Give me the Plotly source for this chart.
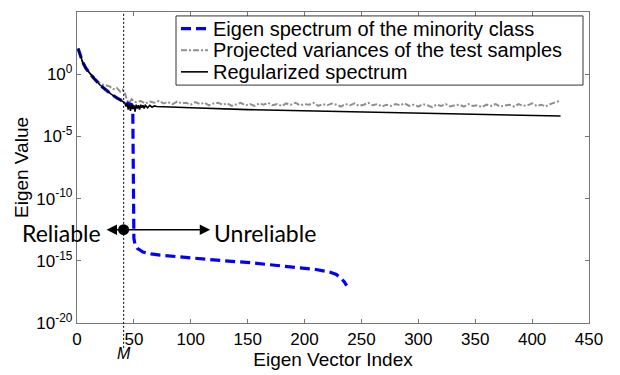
import numpy as np
import plotly.graph_objects as go

# ---------------- data (log10 of eigen values) ----------------
head_idx = [1, 3, 5, 8, 11, 15, 20, 25, 30, 35, 40, 41]
head_log = [2.06, 1.4, 0.95, 0.45, 0.08, -0.35, -0.85, -1.25, -1.6, -1.9, -2.18, -2.22]

blue_idx = head_idx + [45, 48, 49, 50, 51, 53, 58, 65, 73, 90, 108, 130, 152, 175, 196,
                       210, 222, 228, 232, 235, 237]
blue_log = head_log + [-2.35, -2.45, -2.6, -13.2, -13.7, -14.0, -14.3, -14.45, -14.55, -14.7,
                       -14.85, -15.0, -15.15, -15.35, -15.55, -15.7, -15.9, -16.1, -16.4,
                       -16.7, -17.0]

black_idx = head_idx + [42, 43, 44, 45, 46, 47, 48, 49, 50, 51, 52, 53, 54, 55, 56, 57, 58,
                        59, 60, 62, 64, 66, 68, 70, 80, 100, 150, 205, 258, 300, 350, 400, 425]
black_log = head_log + [-2.3, -2.6, -2.35, -2.85, -2.4, -2.95, -2.45, -2.8, -2.5, -3.0, -2.45,
                        -2.75, -2.5, -2.85, -2.45, -2.7, -2.5, -2.75, -2.5, -2.7, -2.5, -2.65,
                        -2.55, -2.6, -2.65, -2.7, -2.85, -2.95, -3.07, -3.15, -3.25, -3.33, -3.36]

gray_idx = [1, 5, 10, 15, 20, 23, 26, 29, 32, 35, 38, 40, 42, 44, 46, 48, 50] + list(range(52, 425, 4))
gray_log = [2.06, 0.97, 0.2, -0.3, -0.7, -0.85, -0.9, -1.0, -1.2, -1.1, -1.4, -1.25, -1.5, -2.1,
            -2.3, -2.0, -2.2,
            -2.25, -2.15, -2.35, -2.2, -2.3, -2.15, -2.35, -2.25, -2.4, -2.2, -2.35, -2.3,
            -2.45, -2.25, -2.4, -2.3, -2.5, -2.35, -2.3, -2.45, -2.35, -2.55, -2.4, -2.3,
            -2.5, -2.4, -2.55, -2.35, -2.45, -2.3, -2.5, -2.4, -2.55, -2.35, -2.45, -2.3,
            -2.5, -2.4, -2.45, -2.3, -2.55, -2.4, -2.5, -2.35, -2.45, -2.6, -2.4, -2.5,
            -2.35, -2.55, -2.45, -2.3, -2.5, -2.4, -2.6, -2.45, -2.55, -2.4, -2.5, -2.35,
            -2.55, -2.45, -2.6, -2.4, -2.5, -2.65, -2.45, -2.55, -2.4, -2.6, -2.5, -2.45,
            -2.6, -2.4, -2.55, -2.5, -2.65, -2.45, -2.55, -2.4, -2.6, -2.5, -2.45, -2.6,
            -2.4, -2.55, -2.5, -2.35, -2.55, -2.45, -2.6, -2.4, -2.3, -2.15]

M_index = 41
marker_log = -12.5
left_arrow_end = 26
right_arrow_end = 117

x_ticks = [0, 50, 100, 150, 200, 250, 300, 350, 400, 450]
y_tick_exp = [5, 0, -5, -10, -15, -20]

series_names = ["Eigen spectrum of the minority class",
                "Projected variances of the test samples",
                "Regularized spectrum"]

# ---------------- figure ----------------
W, H = 620, 375
ML, MR, MT, MB = 77, 31, 11, 47
PW, PH = W - ML - MR, H - MT - MB


def px(xp):
    return (xp - ML) / PW


def py(yp):
    return (H - MB - yp) / PH


AX = "#777777"
FONT = "Arial, Liberation Sans, sans-serif"
BLUE = "#0000ff"
GRAY = "#8f8f8f"

fig = go.Figure()
fig.add_trace(go.Scatter(x=gray_idx, y=10.0 ** np.array(gray_log), mode="lines",
                         name=series_names[1],
                         line=dict(color=GRAY, width=2, dash="6px,2px,2px,2px")))
fig.add_trace(go.Scatter(x=blue_idx, y=10.0 ** np.array(blue_log), mode="lines",
                         name=series_names[0],
                         line=dict(color=BLUE, width=3.2, dash="10px,5px")))
fig.add_trace(go.Scatter(x=black_idx, y=10.0 ** np.array(black_log), mode="lines",
                         name=series_names[2],
                         line=dict(color="black", width=1.6)))
fig.add_trace(go.Scatter(x=[M_index], y=[10.0 ** marker_log], mode="markers",
                         marker=dict(color="black", size=11), showlegend=False,
                         hoverinfo="skip"))

shapes = [
    dict(type="line", xref="x", yref="paper", x0=M_index, x1=M_index, y0=-0.08, y1=1,
         line=dict(color="black", width=1, dash="2px,2px")),
]

annotations = [
    dict(x=left_arrow_end, y=marker_log, ax=M_index, ay=marker_log, axref="x", ayref="y",
         xref="x", yref="y", text="", showarrow=True, arrowhead=2, arrowsize=1.3,
         arrowwidth=1.6, arrowcolor="black"),
    dict(x=right_arrow_end, y=marker_log, ax=M_index, ay=marker_log, axref="x", ayref="y",
         xref="x", yref="y", text="", showarrow=True, arrowhead=2, arrowsize=1.3,
         arrowwidth=1.6, arrowcolor="black"),
    dict(x=left_arrow_end - 3.5, y=marker_log - 0.3, xref="x", yref="y", text="Reliable",
         showarrow=False, xanchor="right", yanchor="middle",
         font=dict(family="Lato, Open Sans, sans-serif", size=23, color="black")),
    dict(x=right_arrow_end + 2, y=marker_log - 0.3, xref="x", yref="y", text="Unreliable",
         showarrow=False, xanchor="left", yanchor="middle",
         font=dict(family="Lato, Open Sans, sans-serif", size=23, color="black")),
    dict(x=M_index, y=py(359), xref="x", yref="paper", text="<i>M</i>", showarrow=False,
         xanchor="center", yanchor="middle", font=dict(family=FONT, size=16, color="black")),
]

# manual legend box
lg_x0, lg_x1, lg_y0, lg_y1 = 176, 583, 15, 85.5
shapes.append(dict(type="rect", xref="paper", yref="paper", x0=px(lg_x0), x1=px(lg_x1),
                   y0=py(lg_y1), y1=py(lg_y0), line=dict(color="#333333", width=1),
                   fillcolor="white", layer="above"))
row_y = [28, 50, 72]
row_styles = [dict(color=BLUE, width=3.2, dash="10px,5px"),
              dict(color=GRAY, width=2, dash="6px,2px,2px,2px"),
              dict(color="black", width=1.6)]
for name, ry, st in zip(series_names, row_y, row_styles):
    shapes.append(dict(type="line", xref="paper", yref="paper", x0=px(181), x1=px(208),
                       y0=py(ry), y1=py(ry), line=st, layer="above"))
    annotations.append(dict(x=px(211), y=py(ry), xref="paper", yref="paper", text=name,
                            showarrow=False, xanchor="left", yanchor="middle",
                            font=dict(family=FONT, size=20, color="black")))

fig.update_layout(
    width=W, height=H,
    margin=dict(l=ML, r=MR, t=MT, b=MB),
    paper_bgcolor="white", plot_bgcolor="white",
    showlegend=False,
    shapes=shapes,
    annotations=annotations,
    font=dict(family=FONT, size=17, color="black"),
)
fig.update_xaxes(range=[0, 450], tickvals=x_ticks, ticks="inside", ticklen=4,
                 tickcolor=AX, showline=True, linecolor=AX, linewidth=1.3, mirror="ticks",
                 showgrid=False, zeroline=False,
                 tickfont=dict(family=FONT, size=17, color="black"),
                 title=dict(text="Eigen Vector Index", standoff=2,
                            font=dict(family=FONT, size=19, color="black")))
fig.update_yaxes(type="log", range=[-20, 5],
                 tickvals=[10.0 ** e for e in y_tick_exp],
                 ticktext=["10<sup>%d</sup>" % e for e in y_tick_exp],
                 ticks="inside", ticklen=4, tickcolor=AX, showline=True, linecolor=AX,
                 linewidth=1.3, mirror="ticks", showgrid=False, zeroline=False,
                 tickfont=dict(family=FONT, size=17, color="black"),
                 title=dict(text="Eigen Value", standoff=2,
                            font=dict(family=FONT, size=19, color="black")))

fig.write_html("out.html")
